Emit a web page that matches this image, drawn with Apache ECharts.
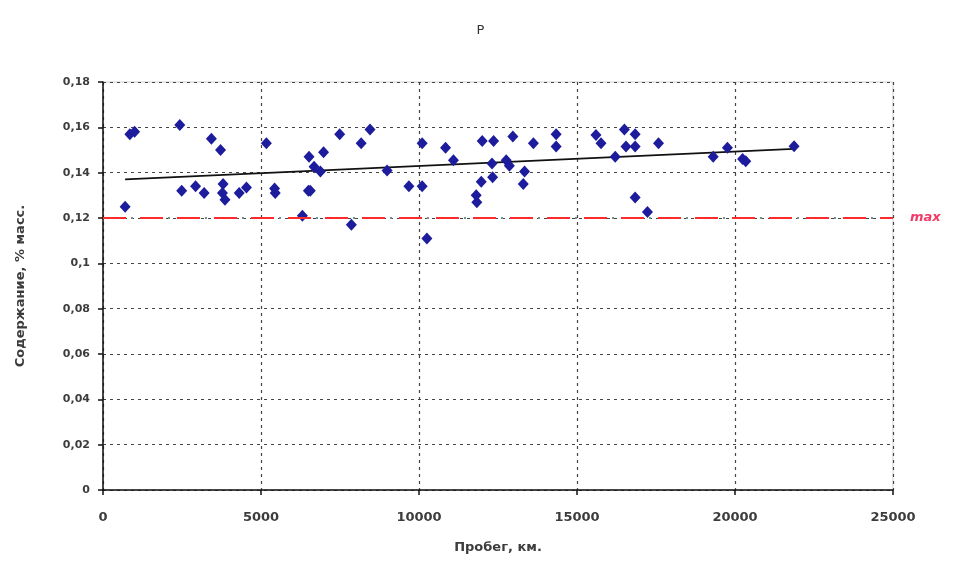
<!DOCTYPE html>
<html>
<head>
<meta charset="utf-8">
<script src="https://cdn.jsdelivr.net/npm/echarts@6/dist/echarts.min.js"></script>
<style>
  html, body { margin: 0; padding: 0; background: #fff; }
  #chart { width: 961px; height: 561px; }
</style>
</head>
<body>
<div id="chart"></div>
<script>
// Mileage of each sample, km
const mileageKm = [
  700, 850, 1000, 2430, 2490, 2930, 3200, 3430, 3720, 3800,
  3780, 3860, 4310, 4540, 5170, 5430, 5450, 6310, 6520, 6500,
  6560, 6680, 6880, 6980, 7490, 7860, 8170, 8450, 8990, 9680,
  10100, 10100, 10250, 10840, 11090, 11810, 11830, 11970, 12000, 12330,
  12360, 12310, 12760, 12860, 12970, 13340, 13300, 13620, 14340, 14340,
  15600, 15760, 16210, 16500, 16550, 16840, 16840, 16840, 17230, 17580,
  19310, 19760, 20240, 20340, 21870
];
// Phosphorus content, % mass
const contentPct = [
  0.125, 0.157, 0.158, 0.161, 0.132, 0.134, 0.131, 0.155, 0.150, 0.135,
  0.131, 0.128, 0.131, 0.1335, 0.153, 0.133, 0.131, 0.121, 0.147, 0.132,
  0.132, 0.1426, 0.1405, 0.149, 0.157, 0.117, 0.153, 0.159, 0.141, 0.134,
  0.134, 0.153, 0.111, 0.151, 0.1455, 0.130, 0.127, 0.136, 0.154, 0.138,
  0.154, 0.144, 0.1455, 0.143, 0.156, 0.1405, 0.135, 0.153, 0.157, 0.1515,
  0.1566, 0.153, 0.147, 0.159, 0.1515, 0.157, 0.1515, 0.129, 0.1227, 0.153,
  0.147, 0.151, 0.146, 0.145, 0.1517
];
// Linear trend end points [km, %]
const trendStart = [700, 0.137];
const trendEnd = [21870, 0.1505];
// Permitted maximum content
const maxLimit = 0.12;
const maxLabel = 'max';

const chartTitle = 'P';
const xAxisTitle = 'Пробег, км.';
const yAxisTitle = 'Содержание, % масс.';

const points = mileageKm.map((x, i) => [x, contentPct[i]]);

const fmtComma = v => String(Number(v.toFixed(2))).replace('.', ',');
const fmtPlain = v => String(v);

const FONT = 'DejaVu Sans, Arial, sans-serif';
const TXT = '#3c3c3c';

const chart = echarts.init(document.getElementById('chart'), null, { renderer: 'canvas' });
chart.setOption({
  animation: false,
  backgroundColor: '#ffffff',
  title: {
    text: chartTitle,
    left: 'center',
    top: 19,
    textStyle: { color: '#333', fontSize: 13, fontWeight: 'normal', fontFamily: FONT }
  },
  grid: {
    left: 103, right: 68, top: 82, bottom: 71,
    show: true, borderColor: '#d0d0d0', borderWidth: 1, backgroundColor: '#fff'
  },
  xAxis: {
    type: 'value', min: 0, max: 25000, interval: 5000,
    name: xAxisTitle, nameLocation: 'middle', nameGap: 51,
    nameTextStyle: { color: TXT, fontSize: 13, fontWeight: 'bold', fontFamily: FONT },
    axisLine: { show: true, onZero: false, lineStyle: { color: '#111', width: 1.5 } },
    axisTick: { show: true, length: 5, lineStyle: { color: '#111', width: 1.5 } },
    axisLabel: { margin: 21, formatter: fmtPlain, color: TXT, fontSize: 13, fontWeight: 'bold', fontFamily: FONT },
    splitLine: { show: true, lineStyle: { color: '#444', type: [3, 4], width: 1.2 } }
  },
  yAxis: {
    type: 'value', min: 0, max: 0.18, interval: 0.02,
    name: yAxisTitle, nameLocation: 'middle', nameGap: 76, nameRotate: 90,
    nameTextStyle: { color: TXT, fontSize: 13, fontWeight: 'bold', fontFamily: FONT },
    axisLine: { show: true, onZero: false, lineStyle: { color: '#111', width: 1.5 } },
    axisTick: { show: true, length: 5, lineStyle: { color: '#111', width: 1.5 } },
    axisLabel: { margin: 13, formatter: fmtComma, color: TXT, fontSize: 11, fontWeight: 'bold', fontFamily: FONT },
    splitLine: { show: true, lineStyle: { color: '#444', type: [3, 4], width: 1.2 } }
  },
  series: [
    {
      name: 'limit-dots',
      type: 'line',
      data: [],
      silent: true,
      markLine: {
        silent: true, symbol: 'none', animation: false,
        label: { show: false },
        lineStyle: { color: '#6f9585', width: 2, type: [2, 35], dashOffset: -28 },
        data: [{ yAxis: maxLimit }]
      }
    },
    {
      name: 'limit',
      type: 'line',
      data: [],
      silent: true,
      markLine: {
        silent: true, symbol: 'none', animation: false,
        label: {
          show: true, position: 'end', distance: 17, formatter: maxLabel,
          color: '#f23a66', fontSize: 13, fontStyle: 'italic', fontWeight: 'bold', fontFamily: FONT
        },
        lineStyle: { color: '#ff2a2a', width: 2.2, type: [23, 14] },
        data: [{ yAxis: maxLimit }]
      }
    },
    {
      name: 'trend',
      type: 'line',
      data: [trendStart, trendEnd],
      symbol: 'none',
      lineStyle: { color: '#111', width: 1.8 },
      z: 3
    },
    {
      name: 'P',
      type: 'scatter',
      data: points,
      symbol: 'diamond',
      symbolSize: [11, 12],
      itemStyle: { color: '#1c1c9c', opacity: 1 },
      z: 4
    }
  ]
});
</script>
</body>
</html>
